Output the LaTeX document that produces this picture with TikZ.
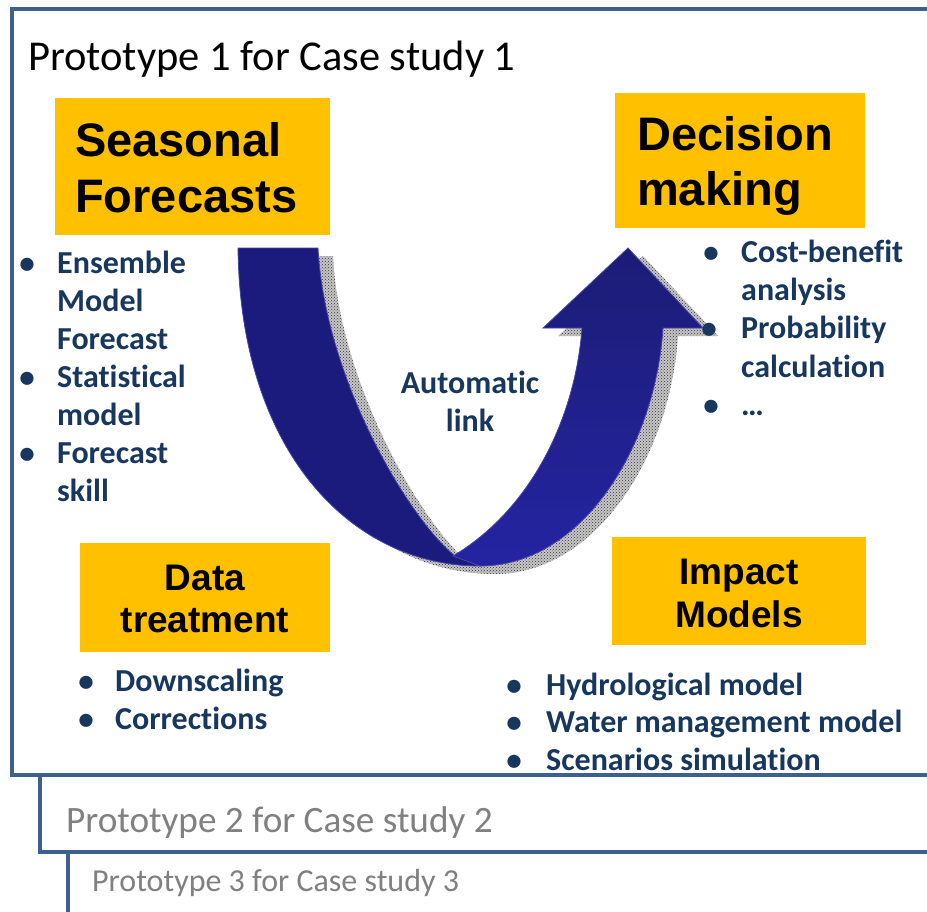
\documentclass[tikz,border=0pt]{standalone}
\usepackage{fontspec}
\setmainfont[Ligatures=NoCommon]{Carlito}
\newfontfamily\headfont{Liberation Sans}
\usetikzlibrary{patterns}
\definecolor{frameblue}{RGB}{62,96,140}
\definecolor{boxyellow}{RGB}{255,192,0}
\definecolor{navytext}{RGB}{23,55,94}
\definecolor{protogray}{RGB}{128,128,128}
\definecolor{arrowdark}{RGB}{27,27,125}
\definecolor{arrowtop}{RGB}{28,28,118}
\definecolor{arrowbot}{RGB}{36,36,162}
\definecolor{arrowedge}{RGB}{70,70,170}
\tikzset{
  frame/.style={draw=frameblue, line width=4.5pt, fill=white},
  ybox/.style={fill=boxyellow, draw=none, inner sep=0},
  headtxt/.style={font=\headfont\bfseries\fontsize{47}{56}\selectfont, anchor=base west, inner sep=0, text=black},
  subhead/.style={font=\headfont\bfseries\fontsize{37}{43}\selectfont, anchor=base, inner sep=0, text=black},
  item/.style={font=\bfseries\fontsize{32}{38}\selectfont, anchor=base west, inner sep=0, text=navytext},
  blt/.style={font=\bfseries\fontsize{31}{38}\selectfont, anchor=base, inner sep=0, text=navytext},
  linktxt/.style={font=\bfseries\fontsize{32}{38}\selectfont, anchor=base, inner sep=0, text=navytext},
  shadowbase/.style={fill=gray!45},
  shadowfill/.style={pattern=crosshatch dots, pattern color=gray!40!black},
}
\begin{document}
\begin{tikzpicture}[x=1pt,y=-1pt]
\useasboundingbox (0,0) rectangle (927,911);
\clip (0,0) rectangle (927,911);
\fill[white] (0,0) rectangle (927,911);
% frames
\draw[frame] (68,852) rectangle (945,935);
\draw[frame] (40,775) rectangle (945,852);
\draw[frame] (12,9) rectangle (945,775);
\node[font=\fontsize{42.5}{46}\selectfont, anchor=base west, inner sep=0] (p1) at (28,70) {Prototype 1 for Case study 1};
\node[font=\fontsize{37.2}{40}\selectfont, anchor=base west, inner sep=0, text=protogray] (p2) at (66,832) {Prototype 2 for Case study 2};
\node[font=\fontsize{32}{34}\selectfont, anchor=base west, inner sep=0, text=protogray] (p3) at (92,891) {Prototype 3 for Case study 3};
% arrow shadow
\begin{scope}[shift={(15,8)}]
\foreach \sty in {shadowbase,shadowfill}{
\fill[\sty] (238,248) -- (318,248) .. controls (325,380) and (410,520) .. (455,556)
  -- (480,566) .. controls (350,566) and (240,450) .. (238,248) -- cycle;
\fill[\sty] (453,556) .. controls (530,510) and (575,420) .. (582,328)
  -- (543,328) -- (628,248) -- (703,328) -- (663,328)
  .. controls (655,450) and (580,566) .. (480,566) -- cycle;
}
\end{scope}
% arrow left band
\fill[arrowdark, draw=arrowedge, line width=0.8pt] (238,248) -- (318,248) .. controls (325,380) and (410,520) .. (455,556)
  -- (480,566) .. controls (350,566) and (240,450) .. (238,248) -- cycle;
% arrow right band with head
\shade[top color=arrowtop, bottom color=arrowbot, draw=arrowedge, line width=0.8pt] (453,556) .. controls (530,510) and (575,420) .. (582,328)
  -- (543,328) -- (628,248) -- (703,328) -- (663,328)
  .. controls (655,450) and (580,566) .. (480,566) -- cycle;
\node[linktxt] (auto1) at (470,393) {Automatic};
\node[linktxt] (auto2) at (470,431) {link};
% yellow boxes
\node[ybox, minimum width=275pt, minimum height=137pt] (sfbox) at (192.5,166.5) {};
\node[ybox, minimum width=250pt, minimum height=135pt] (dmbox) at (740,160.5) {};
\node[ybox, minimum width=250pt, minimum height=109pt] (dtbox) at (205,597.5) {};
\node[ybox, minimum width=254pt, minimum height=108pt] (imbox) at (739,591) {};
\node[headtxt] (sf1) at (75,156) {Seasonal};
\node[headtxt] (sf2) at (75,212) {Forecasts};
\node[headtxt] (dm1) at (637,150) {Decision};
\node[headtxt] (dm2) at (637,205) {making};
\node[subhead] (dt1) at (205,590) {Data};
\node[subhead] (dt2) at (205,632) {treatment};
\node[subhead] (im1) at (739,584) {Impact};
\node[subhead] (im2) at (739,627) {Models};
% left list
\node[blt] (lb1) at (27,273) {•};
\node[item] (l1) at (57,273) {Ensemble};
\node[item] (l2) at (57,311) {Model};
\node[item] (l3) at (57,349) {Forecast};
\node[blt] (lb2) at (27,387) {•};
\node[item] (l4) at (57,387) {Statistical};
\node[item] (l5) at (57,425) {model};
\node[blt] (lb3) at (27,463) {•};
\node[item] (l6) at (57,463) {Forecast};
\node[item] (l7) at (57,501) {skill};
% right list
\node[blt] (rb1) at (711,262) {•};
\node[item] (r1) at (741,262) {Cost-benefit};
\node[item] (r2) at (741,300) {analysis};
\node[blt] (rb2) at (709,338) {•};
\node[item] (r3) at (741,338) {Probability};
\node[item] (r4) at (741,377) {calculation};
\node[blt] (rb3) at (711,415) {•};
\node[item] (r5) at (741,415) {…};
% data treatment list
\node[blt] (db1) at (86,691) {•};
\node[item] (d1) at (115,691) {Downscaling};
\node[blt] (db2) at (86,729) {•};
\node[item] (d2) at (115,729) {Corrections};
% impact list
\node[blt] (ib1) at (514,695) {•};
\node[item] (i1) at (546,695) {Hydrological model};
\node[blt] (ib2) at (514,732) {•};
\node[item] (i2) at (546,732) {Water management model};
\node[blt] (ib3) at (514,770) {•};
\node[item] (i3) at (546,770) {Scenarios simulation};
\end{tikzpicture}
\end{document}
